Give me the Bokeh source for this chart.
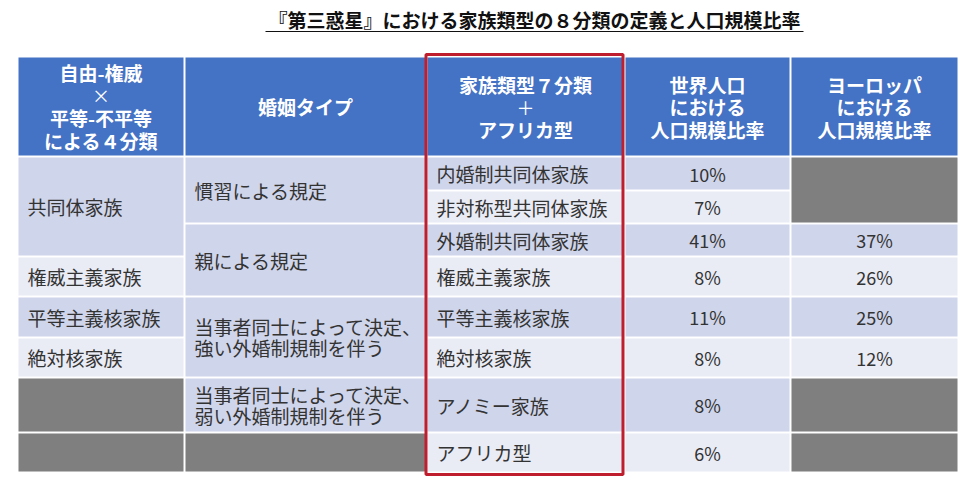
from bokeh.plotting import figure
from bokeh.models import ColumnDataSource, Range1d
from bokeh.core.properties import value
from bokeh.embed import file_html
from bokeh.resources import INLINE

# ---------------- data ----------------
title = "『第三惑星』における家族類型の８分類の定義と人口規模比率"
headers = ["自由-権威\n×\n平等-不平等\nによる４分類",
           "婚姻タイプ",
           "家族類型７分類\n＋\nアフリカ型",
           "世界人口\nにおける\n人口規模比率",
           "ヨーロッパ\nにおける\n人口規模比率"]
four_classes = ["共同体家族", "権威主義家族", "平等主義核家族", "絶対核家族", "", ""]
four_class_rows = [3, 1, 1, 1, 1, 1]
marriage_types = ["慣習による規定", "親による規定",
                  "当事者同士によって決定、\n強い外婚制規制を伴う",
                  "当事者同士によって決定、\n弱い外婚制規制を伴う", ""]
marriage_rows = [2, 2, 2, 1, 1]
family_types = ["内婚制共同体家族", "非対称型共同体家族", "外婚制共同体家族", "権威主義家族",
                "平等主義核家族", "絶対核家族", "アノミー家族", "アフリカ型"]
world_share = [10, 7, 41, 8, 11, 8, 8, 6]
europe_share = [None, 37, 26, 25, 12, None, None]
europe_rows = [2, 1, 1, 1, 1, 1, 1]

# ---------------- layout / style ----------------
FONT = value("Noto Sans CJK JP")
BLUE, DARK, LIGHT, GRAY = "#4472C4", "#CFD5EA", "#E9EBF5", "#7F7F7F"
TXT = "#333333"
col_edges = [17, 184, 426, 624, 790, 958]
header_top, header_bot = 56, 156
row_edges = [156, 190, 223, 256, 296, 337, 377, 432, 472]

W, H = 975, 478
p = figure(width=W, height=H, x_range=Range1d(0, W), y_range=Range1d(H, 0),
           output_backend="svg", toolbar_location=None,
           x_axis_location=None, y_axis_location=None, min_border=0)
p.grid.visible = False
p.outline_line_color = None
p.background_fill_color = "white"
p.border_fill_color = "white"

cells = dict(left=[], right=[], top=[], bottom=[], color=[])
texts = {"left": dict(x=[], y=[], text=[]), "center": dict(x=[], y=[], text=[])}
htexts = dict(x=[], y=[], text=[])
hsyms = dict(x=[], y=[], text=[])


def add_cell(l, r, t, b, color):
    cells["left"].append(l + 1)
    cells["right"].append(r - 1)
    cells["top"].append(t + 1)
    cells["bottom"].append(b - 1)
    cells["color"].append(color)


def add_lines(store, x, yc, label, spacing, sym_store=None):
    lines = label.split("\n")
    n = len(lines)
    for i, ln in enumerate(lines):
        target = sym_store if (sym_store is not None and ln in ("×", "＋")) else store
        target["x"].append(x)
        target["y"].append(yc + (i - (n - 1) / 2) * spacing)
        target["text"].append(ln)


# header
for ci, h in enumerate(headers):
    l, r = col_edges[ci], col_edges[ci + 1]
    add_cell(l, r, header_top, header_bot, BLUE)
    add_lines(htexts, (l + r) / 2, (header_top + header_bot) / 2, h, 22.5, hsyms)


def add_column(ci, labels, spans, align):
    l, r = col_edges[ci], col_edges[ci + 1]
    row = 0
    for lab, n in zip(labels, spans):
        t, b = row_edges[row], row_edges[row + n]
        if lab == "":
            color = GRAY
        else:
            color = DARK if row % 2 == 0 else LIGHT
        add_cell(l, r, t, b, color)
        if lab != "":
            x = l + 10 if align == "left" else (l + r) / 2
            add_lines(texts[align], x, (t + b) / 2, lab, 21)
        row += n


add_column(0, four_classes, four_class_rows, "left")
add_column(1, marriage_types, marriage_rows, "left")
add_column(2, family_types, [1] * len(family_types), "left")
add_column(3, [f"{v}%" for v in world_share], [1] * len(world_share), "center")
add_column(4, ["" if v is None else f"{v}%" for v in europe_share], europe_rows, "center")

p.quad(left="left", right="right", top="top", bottom="bottom", fill_color="color",
       line_color=None, source=ColumnDataSource(cells))

p.text(x="x", y="y", text="text", source=ColumnDataSource(texts["left"]), text_font=FONT,
       text_font_size="19px", text_align="left", text_baseline="middle", text_color=TXT)
p.text(x="x", y="y", text="text", source=ColumnDataSource(texts["center"]), text_font=FONT,
       text_font_size="18px", text_align="center", text_baseline="middle", text_color=TXT)

p.text(x="x", y="y", text="text", source=ColumnDataSource(htexts), text_font=FONT,
       text_font_size="19px", text_font_style="bold", text_align="center",
       text_baseline="middle", text_color="white")
p.text(x="x", y="y", text="text", source=ColumnDataSource(hsyms), text_font=FONT,
       text_font_size="18px", text_align="center",
       text_baseline="middle", text_color="white")

# red highlight box around the family-type column
p.quad(left=[col_edges[2] - 0.5], right=[col_edges[3] - 1.5], top=[header_top - 2],
       bottom=[row_edges[-1] + 2], fill_color=None, line_color="#BF1E2E", line_width=3)

# title with underline
p.text(x=[534], y=[19], text=[title], text_font=FONT, text_font_size="19px",
       text_font_style="bold", text_align="center", text_baseline="middle", text_color="#111111")
p.segment(x0=[265], x1=[803], y0=[31], y1=[31], line_color="#111111", line_width=1.2)

open("out.html", "w").write(file_html(p, INLINE))
